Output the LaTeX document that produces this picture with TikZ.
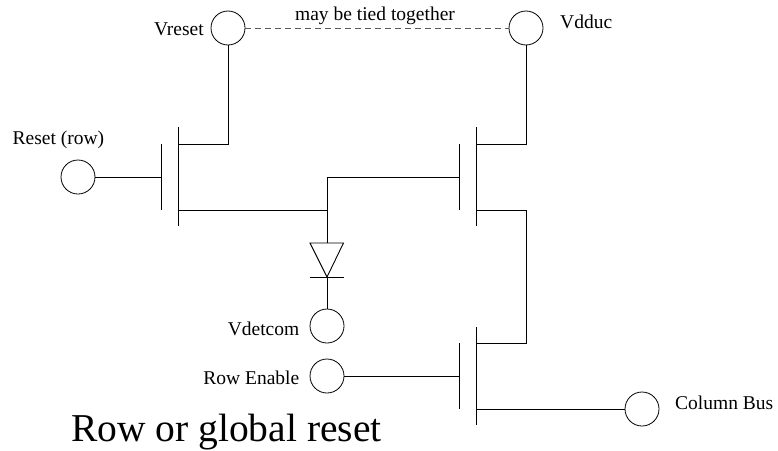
\documentclass[tikz,border=0pt]{standalone}
\usepackage{fontspec}
\setmainfont{Liberation Serif}
\begin{document}
\begin{tikzpicture}[x=1pt,y=-1pt,
pad/.style = {circle, draw, line width=0.8pt, fill=white, inner sep=0pt, minimum size=34pt},
lbl/.style = {inner sep=0pt, font=\fontsize{19.5}{22}\selectfont},
wire/.style = {line width=0.9pt},
tied/.style = {line width=1pt, black!65, dash pattern=on 6pt off 4pt}]
\useasboundingbox (0,0) rectangle (778,450);
    \node[pad] (Vreset) at (228,28) {};
    \node[pad] (Vdduc) at (526,28) {};
    \node[pad] (Reset) at (78,177) {};
    \node[pad] (Vdetcom) at (327,326) {};
    \node[pad] (RowEnable) at (327,376) {};
    \node[pad] (ColumnBus) at (642,409) {};

    \node[lbl,anchor=base east] (VresetLabel) at (204,35.5) {Vreset};
    \node[lbl,anchor=base west] (VdducLabel) at (560,28) {Vdduc};
    \node[lbl,anchor=base west] (ResetLabel) at (12.5,144) {Reset (row)};
    \node[lbl,anchor=base east] (VdetcomLabel) at (299.5,335) {Vdetcom};
    \node[lbl,anchor=base east] (RowEnableLabel) at (299.5,384) {Row Enable};
    \node[lbl,anchor=base west] (ColumnBusLabel) at (675,409) {Column Bus};
    \node[lbl,anchor=base] (TiedLabel) at (375,20) {may be tied together};
    \node[inner sep=0pt,anchor=base west,font=\fontsize{39.5}{44}\selectfont] (Title) at (71,441.7) {Row or global reset};

    \coordinate (M1_g1) at (161.5,144);
    \coordinate (M1_g2) at (161.5,210);
    \coordinate (M1_g) at (161.5,177);
    \coordinate (M1_c1) at (178,127);
    \coordinate (M1_c2) at (178,226);
    \coordinate (M1_d) at (178,144);
    \coordinate (M1_dk) at (228,144);
    \coordinate (M1_s) at (178,210);
    \coordinate (Node_b) at (327,210);
    \coordinate (Node_t) at (327,177);

    \coordinate (M2_g1) at (459.5,144);
    \coordinate (M2_g2) at (459.5,210);
    \coordinate (M2_g) at (459.5,177);
    \coordinate (M2_c1) at (476,127);
    \coordinate (M2_c2) at (476,226);
    \coordinate (M2_d) at (476,144);
    \coordinate (M2_dk) at (526,144);
    \coordinate (M2_s) at (476,210);
    \coordinate (M2_sk) at (526,210);

    \coordinate (M3_g1) at (459.5,343);
    \coordinate (M3_g2) at (459.5,409);
    \coordinate (M3_g) at (459.5,376);
    \coordinate (M3_c1) at (476,327);
    \coordinate (M3_c2) at (476,425);
    \coordinate (M3_d) at (476,343);
    \coordinate (M3_dk) at (526,343);
    \coordinate (M3_s) at (476,409);

    \coordinate (D_l) at (310,243);
    \coordinate (D_r) at (343.5,243);
    \coordinate (D_t) at (327,243);
    \coordinate (D_k) at (327,277);
    \coordinate (D_kl) at (310,277);
    \coordinate (D_kr) at (343.5,277);

    \draw[tied] (Vreset) -- (Vdduc);
    \draw[wire] (M1_g1) -- (M1_g2);
    \draw[wire] (M1_c1) -- (M1_c2);
    \draw[wire] (Reset) -- (M1_g);
    \draw[wire] (Vreset) -- (M1_dk) -- (M1_d);
    \draw[wire] (M1_s) -- (Node_b) -- (D_t);
    \draw[wire] (Node_b) -- (Node_t) -- (M2_g);
    \draw[wire] (M2_g1) -- (M2_g2);
    \draw[wire] (M2_c1) -- (M2_c2);
    \draw[wire] (Vdduc) -- (M2_dk) -- (M2_d);
    \draw[wire] (M2_s) -- (M2_sk) -- (M3_dk) -- (M3_d);
    \draw[wire] (M3_g1) -- (M3_g2);
    \draw[wire] (M3_c1) -- (M3_c2);
    \draw[wire] (RowEnable) -- (M3_g);
    \draw[wire] (M3_s) -- (ColumnBus);
    \draw[wire] (D_l) -- (D_r) -- (D_k) -- cycle;
    \draw[wire] (D_kl) -- (D_kr);
    \draw[wire] (D_k) -- (Vdetcom);
\end{tikzpicture}
\end{document}
